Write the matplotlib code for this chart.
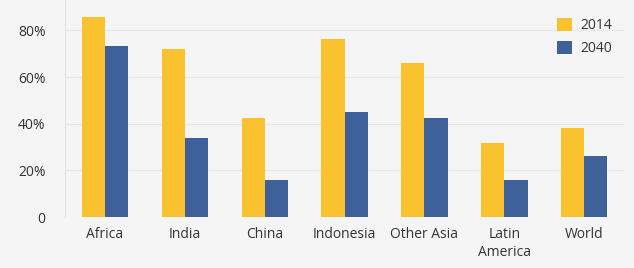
import matplotlib
matplotlib.use("Agg")
import matplotlib.pyplot as plt
import numpy as np

regions = ["Africa", "India", "China", "Indonesia", "Other Asia", "Latin\nAmerica", "World"]
share_2014 = [85.6, 71.9, 42.6, 76.4, 65.9, 31.8, 38.0]
share_2040 = [73.4, 33.9, 15.7, 45.2, 42.6, 15.7, 26.1]

YELLOW = "#f9c22e"
BLUE = "#3e6199"
BG = "#f5f5f5"
TEXT = "#333333"

plt.rcParams.update({
    "font.family": ["Open Sans", "DejaVu Sans"],
    "font.size": 10,
})

fig = plt.figure(figsize=(6.34, 2.68), dpi=100, facecolor=BG)
ax = fig.add_axes([0.1025, 0.19, 0.882, 0.81], facecolor=BG)

x = np.arange(len(regions))
w = 0.29
ax.bar(x - w / 2, share_2014, w, color=YELLOW, label="2014", zorder=3)
ax.bar(x + w / 2, share_2040, w, color=BLUE, label="2040", zorder=3)

ax.set_xlim(-0.5, len(regions) - 0.5)
ax.set_ylim(0, 93)
ax.set_yticks([0, 20, 40, 60, 80])
ax.set_yticklabels(["0", "20%", "40%", "60%", "80%"])
ax.set_xticks(x)
ax.set_xticklabels(regions, linespacing=1.2)
ax.grid(axis="y", color="#e6e6e6", linewidth=0.8, zorder=0)

for s in ["top", "right", "bottom"]:
    ax.spines[s].set_visible(False)
ax.spines["left"].set_color("#e3e3e3")
ax.spines["left"].set_linewidth(0.8)
ax.tick_params(axis="both", length=0, colors=TEXT, labelsize=10)
ax.tick_params(axis="y", pad=14)
ax.tick_params(axis="x", pad=7.5)

leg = ax.legend(loc="upper right", bbox_to_anchor=(1.0, 0.975), frameon=False,
                handlelength=1.1, handleheight=1.1, labelspacing=0.55,
                handletextpad=0.55, fontsize=10)
for t in leg.get_texts():
    t.set_color(TEXT)

fig.savefig("out.png", dpi=100, facecolor=BG)
